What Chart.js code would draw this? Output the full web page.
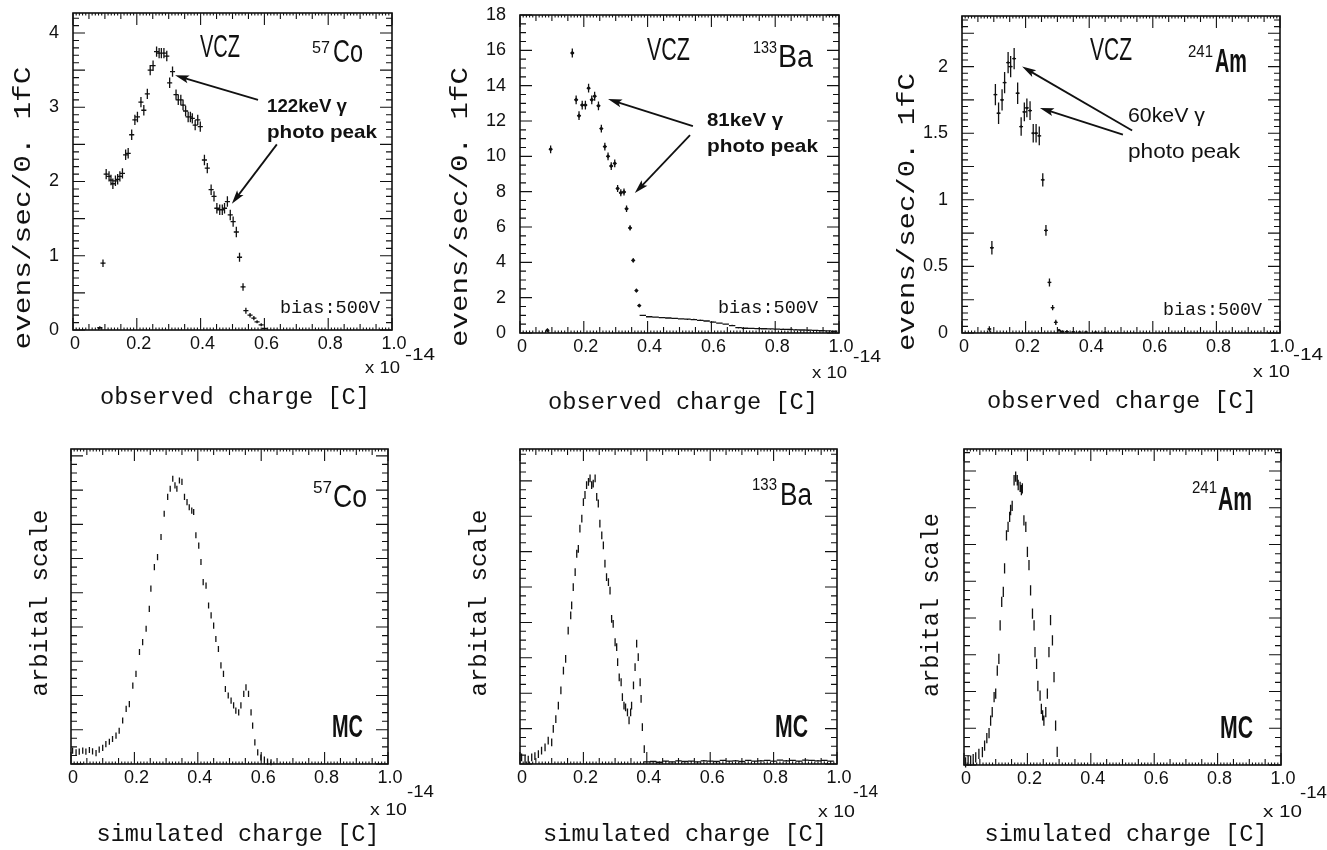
<!DOCTYPE html>
<html>
<head>
<meta charset="utf-8">
<script src="https://cdn.jsdelivr.net/npm/chart.js@4.4.1/dist/chart.umd.min.js"></script>
<style>
  body { margin: 0; background: #fff; width: 1327px; height: 850px; overflow: hidden; position: relative; }
  canvas { position: absolute; left: 0; top: 0; }
</style>
</head>
<body>
<canvas id="c1" width="1327" height="850"></canvas>
<canvas id="c2" width="1327" height="850"></canvas>
<canvas id="c3" width="1327" height="850"></canvas>
<canvas id="c4" width="1327" height="850"></canvas>
<canvas id="c5" width="1327" height="850"></canvas>
<canvas id="c6" width="1327" height="850"></canvas>
<script>
// x axis in units of 1e-14 C
const xTickVals = [0, 0.2, 0.4, 0.6, 0.8, 1.0];
const xTickLabels = ["0", "0.2", "0.4", "0.6", "0.8", "1.0"];

const coObsTicks = [0, 1, 2, 3, 4];
const baObsTicks = [0, 2, 4, 6, 8, 10, 12, 14, 16, 18];
const amObsTicks = [0, 0.5, 1, 1.5, 2];

// 57Co measured
const coObsX = [0.084, 0.094, 0.104, 0.113, 0.119, 0.125, 0.133, 0.140, 0.147, 0.155,
    0.165, 0.173, 0.184, 0.194, 0.202, 0.213, 0.222, 0.233, 0.242, 0.251,
    0.262, 0.270, 0.277, 0.285, 0.294, 0.303, 0.312, 0.323, 0.330, 0.338,
    0.345, 0.353, 0.361, 0.368, 0.374, 0.383, 0.391, 0.399, 0.412, 0.421,
    0.433, 0.442, 0.451, 0.460, 0.468, 0.475, 0.484, 0.493, 0.502, 0.512,
    0.522, 0.533, 0.542, 0.555, 0.567, 0.577, 0.590, 0.600];
const coObsY = [0.03, 0.90, 2.10, 2.07, 2.02, 1.97, 2.01, 2.03, 2.07, 2.11,
    2.36, 2.38, 2.63, 2.83, 2.87, 3.07, 2.96, 3.18, 3.50, 3.56,
    3.75, 3.73, 3.73, 3.73, 3.69, 3.33, 3.48, 3.17, 3.10, 3.10,
    3.03, 2.95, 2.87, 2.87, 2.85, 2.76, 2.83, 2.74, 2.29, 2.18,
    1.89, 1.80, 1.64, 1.62, 1.62, 1.64, 1.73, 1.55, 1.46, 1.32,
    0.98, 0.58, 0.26, 0.20, 0.16, 0.11, 0.07, 0.02];
const coObsErr = [0.02, 0.05,
    0.07, 0.07, 0.07, 0.07, 0.07, 0.07, 0.07, 0.07,
    0.07, 0.07, 0.07, 0.07, 0.07, 0.07, 0.07, 0.07,
    0.07, 0.07, 0.07, 0.07, 0.07, 0.07, 0.07, 0.07,
    0.07, 0.07, 0.07, 0.07, 0.07, 0.07, 0.07, 0.07,
    0.07, 0.07, 0.07, 0.07, 0.07, 0.07, 0.07, 0.07,
    0.07, 0.07, 0.07, 0.07, 0.07, 0.07, 0.07, 0.07,
    0.06, 0.05, 0.04, 0.03, 0.03, 0.02, 0.02, 0.01];

// 133Ba measured
const baObsX = [0.086, 0.096, 0.164, 0.176, 0.185, 0.195, 0.205, 0.215, 0.225, 0.234,
    0.246, 0.255, 0.266, 0.276, 0.286, 0.297, 0.306, 0.316, 0.326, 0.334,
    0.345, 0.355, 0.365, 0.374];
const baObsY = [0.15, 10.4, 15.85, 13.2, 12.3, 12.9, 12.9, 13.86, 13.2, 13.4,
    12.86, 11.57, 10.55, 10.0, 9.45, 9.6, 8.18, 7.94, 7.98, 7.03,
    5.95, 4.11, 2.4, 1.55];
const baObsErr = [0.1, 0.22, 0.25, 0.25, 0.25, 0.25, 0.25, 0.25, 0.25, 0.25,
    0.25, 0.22, 0.22, 0.22, 0.22, 0.22, 0.2, 0.2, 0.2, 0.18,
    0.15, 0.12, 0.1, 0.08];
const baTailX = [0.385, 0.405, 0.425, 0.445, 0.465, 0.485, 0.505, 0.525, 0.545, 0.565,
    0.585, 0.605, 0.625, 0.645, 0.665, 0.685, 0.705, 0.725, 0.745, 0.765,
    0.785, 0.805, 0.825, 0.845, 0.865, 0.885, 0.905, 0.925, 0.945, 0.965, 0.985];
const baTailY = [1.0, 0.92, 0.9, 0.87, 0.85, 0.83, 0.8, 0.78, 0.76, 0.72,
    0.68, 0.62, 0.56, 0.5, 0.42, 0.3, 0.27, 0.26, 0.25, 0.24,
    0.23, 0.22, 0.21, 0.2, 0.18, 0.17, 0.16, 0.15, 0.13, 0.12, 0.1];

// 241Am measured
const amObsX = [0.086, 0.094, 0.105, 0.115, 0.126, 0.134, 0.145, 0.153, 0.164, 0.175,
    0.186, 0.196, 0.204, 0.214, 0.224, 0.233, 0.243, 0.254, 0.264, 0.275,
    0.285, 0.295, 0.305, 0.315, 0.33, 0.35, 0.37, 0.39, 0.42, 0.45];
const amObsY = [0.03, 0.64, 1.79, 1.65, 1.75, 1.88, 2.03, 2.0, 2.06, 1.8,
    1.55, 1.66, 1.69, 1.67, 1.5, 1.5, 1.48, 1.15, 0.77, 0.38,
    0.19, 0.08, 0.02, 0.01, 0.01, 0.008, 0.006, 0.006, 0.005, 0.004];
const amObsErr = [0.02, 0.05, 0.08, 0.08, 0.08, 0.08, 0.08, 0.08, 0.08, 0.08,
    0.07, 0.07, 0.07, 0.07, 0.07, 0.07, 0.07, 0.05, 0.04, 0.03,
    0.02, 0.02, 0.01, 0.01, 0.01, 0.005, 0.005, 0.005, 0.005, 0.005];

// MC, arbitrary scale
const coMcX = [0.005, 0.016, 0.026, 0.037, 0.047, 0.058, 0.068, 0.079, 0.089, 0.1,
    0.11, 0.121, 0.131, 0.142, 0.152, 0.163, 0.174, 0.184, 0.195, 0.205,
    0.216, 0.226, 0.237, 0.247, 0.252, 0.263, 0.273, 0.284, 0.294, 0.305,
    0.313, 0.321, 0.328, 0.334, 0.342, 0.35, 0.358, 0.366, 0.373, 0.381,
    0.387, 0.394, 0.403, 0.41, 0.417, 0.426, 0.434, 0.442, 0.45, 0.457,
    0.465, 0.473, 0.481, 0.487, 0.496, 0.505, 0.513, 0.52, 0.529, 0.536,
    0.545, 0.552, 0.56, 0.568, 0.573, 0.58, 0.589, 0.599, 0.61, 0.62, 0.631];
const coMcY = [0.39, 0.34, 0.36, 0.39, 0.36, 0.41, 0.37, 0.32, 0.42, 0.47,
    0.58, 0.65, 0.73, 0.83, 0.97, 1.27, 1.61, 1.75, 2.29, 2.63,
    3.27, 3.56, 3.95, 4.53, 5.12, 5.75, 6.04, 6.63, 7.31, 7.8,
    8.04, 8.33, 8.14, 8.04, 8.28, 8.24, 7.8, 7.65, 7.5, 7.4,
    7.36, 6.68, 6.38, 5.9, 5.31, 5.21, 4.63, 4.34, 4.04, 3.65,
    3.36, 2.88, 2.63, 2.19, 2.0, 1.85, 1.71, 1.56, 1.51, 1.71,
    2.05, 2.24, 2.05, 1.51, 1.12, 0.63, 0.34, 0.19, 0.13, 0.07, 0.05];

const baMcX = [0.005, 0.016, 0.026, 0.037, 0.047, 0.058, 0.068, 0.079, 0.089, 0.1,
    0.105, 0.113, 0.121, 0.129, 0.137, 0.144, 0.152, 0.16, 0.163, 0.168,
    0.174, 0.179, 0.184, 0.189, 0.195, 0.2, 0.205, 0.21, 0.216, 0.221,
    0.226, 0.231, 0.237, 0.242, 0.247, 0.252, 0.258, 0.263, 0.268, 0.273,
    0.279, 0.284, 0.289, 0.294, 0.3, 0.305, 0.308, 0.313, 0.319, 0.323,
    0.328, 0.333, 0.339, 0.344, 0.349, 0.352, 0.358, 0.363, 0.368, 0.373,
    0.379, 0.382, 0.386, 0.392];
const baMcY = [0.19, 0.14, 0.12, 0.19, 0.22, 0.28, 0.38, 0.47, 0.66, 0.61,
    0.99, 1.27, 1.65, 2.08, 2.64, 2.97, 3.77, 4.2, 4.48, 5.0,
    5.42, 5.94, 6.08, 6.65, 6.93, 7.4, 7.6, 7.88, 7.97, 8.07,
    7.88, 7.92, 8.07, 7.55, 7.36, 6.79, 6.46, 6.18, 5.66, 5.28,
    5.14, 4.9, 4.1, 3.96, 3.44, 3.3, 2.88, 2.45, 2.31, 1.89,
    1.65, 1.6, 1.46, 1.23, 1.46, 1.65, 2.22, 2.74, 3.4, 3.02,
    2.31, 1.84, 1.04, 0.42];
const baMcTailX = [0.40, 0.42, 0.44, 0.46, 0.48, 0.50, 0.52, 0.54, 0.56, 0.58,
    0.60, 0.62, 0.64, 0.66, 0.68, 0.70, 0.72, 0.74, 0.76, 0.78,
    0.80, 0.82, 0.84, 0.86, 0.88, 0.90, 0.92, 0.94, 0.96, 0.98];
const baMcTailY = [0.06, 0.07, 0.05, 0.08, 0.06, 0.09, 0.07, 0.08, 0.06, 0.09,
    0.08, 0.07, 0.1, 0.08, 0.09, 0.07, 0.1, 0.08, 0.09, 0.1,
    0.08, 0.11, 0.09, 0.1, 0.08, 0.11, 0.1, 0.09, 0.1, 0.08];

const amMcX = [0.005, 0.013, 0.021, 0.029, 0.037, 0.047, 0.058, 0.065, 0.072, 0.079,
    0.084, 0.089, 0.095, 0.1, 0.105, 0.11, 0.114, 0.119, 0.124, 0.128,
    0.134, 0.139, 0.144, 0.147, 0.152, 0.158, 0.163, 0.168, 0.171, 0.177,
    0.181, 0.184, 0.189, 0.195, 0.2, 0.205, 0.21, 0.216, 0.221, 0.224,
    0.229, 0.233, 0.24, 0.244, 0.248, 0.252, 0.258, 0.263, 0.268, 0.273,
    0.279, 0.284, 0.289, 0.294];
const amMcY = [0.07, 0.12, 0.12, 0.16, 0.21, 0.3, 0.35, 0.53, 0.73, 0.87,
    1.21, 1.44, 1.85, 1.94, 2.57, 2.89, 3.8, 4.44, 4.71, 5.35,
    6.25, 6.48, 6.75, 6.94, 7.05, 7.75, 7.85, 7.75, 7.62, 7.57,
    7.48, 7.53, 6.66, 6.48, 5.8, 5.44, 4.75, 4.12, 3.8, 3.07,
    2.75, 2.15, 1.89, 1.53, 1.35, 1.21, 1.44, 1.94, 3.07, 3.94,
    3.39, 2.39, 1.07, 0.36];

const MONO = '"Liberation Mono", "DejaVu Sans Mono", monospace';
const SANS = '"Liberation Sans", Arial, sans-serif';
const INK = "#111";

function txt(s, x, y, size, w, opt) {
    return Object.assign({ s: s, x: x, y: y, font: size + "px " + SANS, w: w }, opt || {});
}
function mono(s, x, y, size, w, opt) {
    return Object.assign({ s: s, x: x, y: y, font: size + "px " + MONO, w: w }, opt || {});
}
function ytitle(s, cx, cy, w) {
    return mono(s, cx, cy, 24, w, { rot: -90, align: "center", base: "middle" });
}
function xtitle(s, cx, cy, w) {
    return mono(s, cx, cy, 24, w, { align: "center", base: "middle" });
}

const panels = [
    {
        id: "c1", area: { l: 73, t: 13, r: 392, b: 330 }, ymax: 4.27, yMajor: 0.5, yMinor: 0.1, yLabels: coObsTicks,
        sets: [{ x: coObsX, y: coObsY, err: coObsErr, hw: 0.008, radius: 0.8 }],
        arrows: [[0.580, 3.10, 0.320, 3.43], [0.639, 2.50, 0.498, 1.70]],
        texts: [
            ytitle("evens/sec/0. 1fC", 24, 208, 283),
            xtitle("observed charge [C]", 235, 398, 270),
            txt("x 10", 365, 368, 17, 35, { base: "middle" }),
            txt("-14", 405, 355, 17, 30, { base: "middle" }),
            txt("VCZ", 200, 57, 32, 40),
            txt("57", 312, 53, 17, 18),
            txt("Co", 333, 62, 31, 30),
            txt("122keV \u03b3", 267, 112, 19, 80, { bold: true }),
            txt("photo peak", 267, 138, 19, 110, { bold: true }),
            mono("bias:500V", 280, 313, 18, 100)
        ]
    },
    {
        id: "c2", area: { l: 520, t: 15, r: 839, b: 333 }, ymax: 18, yMajor: 2, yMinor: 0.5, yLabels: baObsTicks,
        sets: [
            { x: baObsX, y: baObsY, err: baObsErr, hw: 0.005, radius: 2.2 },
            { x: baTailX, y: baTailY, err: 0.04, hw: 0.01, radius: 0 }
        ],
        arrows: [[0.542, 11.71, 0.276, 13.24], [0.533, 11.2, 0.36, 7.92]],
        texts: [
            ytitle("evens/sec/0. 1fC", 461, 207, 280),
            xtitle("observed charge [C]", 683, 403, 270),
            txt("x 10", 812, 373, 17, 35, { base: "middle" }),
            txt("-14", 853, 357, 17, 28, { base: "middle" }),
            txt("VCZ", 647, 60, 32, 43),
            txt("133", 753, 53, 17, 24),
            txt("Ba", 778, 67, 32, 35),
            txt("81keV \u03b3", 707, 126, 19, 76, { bold: true }),
            txt("photo peak", 707, 152, 19, 111, { bold: true }),
            mono("bias:500V", 718, 313, 18, 100)
        ]
    },
    {
        id: "c3", area: { l: 962, t: 16, r: 1280, b: 333 }, ymax: 2.38, yMajor: 0.25, yMinor: 0.05, yLabels: amObsTicks,
        sets: [{ x: amObsX, y: amObsY, err: amObsErr, hw: 0.006, radius: 1.5 }],
        arrows: [[0.535, 1.52, 0.189, 2.0], [0.506, 1.49, 0.245, 1.69]],
        texts: [
            ytitle("evens/sec/0. 1fC", 908, 212, 278),
            xtitle("observed charge [C]", 1122, 402, 270),
            txt("x 10", 1253, 372, 17, 37, { base: "middle" }),
            txt("-14", 1293, 355, 17, 30, { base: "middle" }),
            txt("VCZ", 1090, 60, 32, 42),
            txt("241", 1188, 57, 17, 25),
            txt("Am", 1215, 72, 33, 32, { bold: true }),
            txt("60keV \u03b3", 1128, 122, 20, 77),
            txt("photo peak", 1128, 158, 20, 112),
            mono("bias:500V", 1163, 315, 18, 99)
        ]
    },
    {
        id: "c4", area: { l: 71, t: 449, r: 388, b: 764 }, ymax: 9.2, yMajor: 1, yMinor: 0.25, yLabels: [],
        sets: [{ x: coMcX, y: coMcY, err: 0.09, hw: 0.0015, radius: 0 }],
        arrows: [],
        texts: [
            ytitle("arbital scale", 41, 603, 187),
            xtitle("simulated charge [C]", 238, 835, 283),
            txt("x 10", 370, 810, 17, 37, { base: "middle" }),
            txt("-14", 407, 792, 17, 27, { base: "middle" }),
            txt("57", 313, 493, 17, 19),
            txt("Co", 333, 507, 31, 34),
            txt("MC", 332, 737, 31, 31, { bold: true })
        ]
    },
    {
        id: "c5", area: { l: 520, t: 449, r: 837, b: 764 }, ymax: 8.9, yMajor: 1, yMinor: 0.25, yLabels: [],
        sets: [
            { x: baMcX, y: baMcY, err: 0.11, hw: 0.0015, radius: 0 },
            { x: baMcTailX, y: baMcTailY, err: 0.02, hw: 0.01, radius: 0 }
        ],
        arrows: [],
        texts: [
            ytitle("arbital scale", 480, 603, 187),
            xtitle("simulated charge [C]", 685, 835, 284),
            txt("x 10", 818, 812, 17, 37, { base: "middle" }),
            txt("-14", 853, 792, 17, 25, { base: "middle" }),
            txt("133", 752, 490, 17, 25),
            txt("Ba", 780, 505, 31, 32),
            txt("MC", 775, 737, 31, 33, { bold: true })
        ]
    },
    {
        id: "c6", area: { l: 964, t: 449, r: 1281, b: 765 }, ymax: 8.6, yMajor: 1, yMinor: 0.25, yLabels: [],
        sets: [{ x: amMcX, y: amMcY, err: 0.14, hw: 0.0015, radius: 0 }],
        arrows: [],
        texts: [
            ytitle("arbital scale", 932, 605, 184),
            xtitle("simulated charge [C]", 1126, 835, 283),
            txt("x 10", 1263, 812, 17, 39, { base: "middle" }),
            txt("-14", 1300, 793, 17, 27, { base: "middle" }),
            txt("241", 1192, 493, 17, 25),
            txt("Am", 1218, 510, 33, 34, { bold: true }),
            txt("MC", 1220, 738, 31, 33, { bold: true })
        ]
    }
];

function drawText(ctx, t) {
    ctx.save();
    ctx.font = (t.bold ? "bold " : "") + t.font;
    ctx.fillStyle = INK;
    ctx.textAlign = t.align || "left";
    ctx.textBaseline = t.base || "alphabetic";
    ctx.translate(t.x, t.y);
    if (t.rot) ctx.rotate(t.rot * Math.PI / 180);
    if (t.w) {
        let m = ctx.measureText(t.s).width;
        ctx.scale(t.w / m, 1);
    }
    ctx.fillText(t.s, 0, 0);
    ctx.restore();
}

function tickRun(ctx, scale, max, step, len, onX, a) {
    let n = Math.floor(max / step + 1e-6);
    for (let i = 0; i <= n; i++) {
        let p = scale.getPixelForValue(i * step);
        if (onX) {
            ctx.moveTo(p, a.bottom); ctx.lineTo(p, a.bottom - len);
            ctx.moveTo(p, a.top); ctx.lineTo(p, a.top + len);
        } else {
            ctx.moveTo(a.left, p); ctx.lineTo(a.left + len, p);
            ctx.moveTo(a.right, p); ctx.lineTo(a.right - len, p);
        }
    }
}

function makeDeco(panel) {
    return {
        id: "deco",
        afterDatasetsDraw(chart) {
            const ctx = chart.ctx, xs = chart.scales.x, ys = chart.scales.y;
            ctx.save();
            ctx.strokeStyle = INK;
            ctx.lineWidth = 1.3;
            ctx.beginPath();
            panel.sets.forEach(s => {
                s.x.forEach((xv, i) => {
                    let e = Array.isArray(s.err) ? s.err[i] : s.err;
                    let px = xs.getPixelForValue(xv), py = ys.getPixelForValue(s.y[i]);
                    ctx.moveTo(px, ys.getPixelForValue(s.y[i] - e));
                    ctx.lineTo(px, ys.getPixelForValue(s.y[i] + e));
                    ctx.moveTo(xs.getPixelForValue(xv - s.hw), py);
                    ctx.lineTo(xs.getPixelForValue(xv + s.hw), py);
                });
            });
            ctx.stroke();
            ctx.restore();
        },
        afterDraw(chart) {
            const ctx = chart.ctx, a = chart.chartArea, xs = chart.scales.x, ys = chart.scales.y;
            ctx.save();
            ctx.strokeStyle = INK;
            ctx.lineWidth = 1.1;
            ctx.beginPath();
            tickRun(ctx, xs, 1, 0.2, 12, true, a);
            tickRun(ctx, xs, 1, 0.05, 6, true, a);
            tickRun(ctx, xs, 1, 0.01, 2.5, true, a);
            tickRun(ctx, ys, panel.ymax, panel.yMajor, 12, false, a);
            tickRun(ctx, ys, panel.ymax, panel.yMinor, 6, false, a);
            ctx.stroke();
            ctx.lineWidth = 1.6;
            ctx.strokeRect(a.left, a.top, a.right - a.left, a.bottom - a.top);

            // arrows
            ctx.lineWidth = 1.8;
            ctx.fillStyle = INK;
            panel.arrows.forEach(ar => {
                let x1 = xs.getPixelForValue(ar[0]), y1 = ys.getPixelForValue(ar[1]);
                let x2 = xs.getPixelForValue(ar[2]), y2 = ys.getPixelForValue(ar[3]);
                let ang = Math.atan2(y2 - y1, x2 - x1);
                ctx.beginPath();
                ctx.moveTo(x1, y1);
                ctx.lineTo(x2 - 8 * Math.cos(ang), y2 - 8 * Math.sin(ang));
                ctx.stroke();
                ctx.save();
                ctx.translate(x2, y2);
                ctx.rotate(ang);
                ctx.beginPath();
                ctx.moveTo(0, 0);
                ctx.lineTo(-14, -4);
                ctx.lineTo(-11, 0);
                ctx.lineTo(-14, 4);
                ctx.closePath();
                ctx.fill();
                ctx.restore();
            });

            // tick labels
            ctx.font = "18px " + SANS;
            ctx.fillStyle = INK;
            ctx.textAlign = "center";
            ctx.textBaseline = "middle";
            xTickVals.forEach((v, i) => {
                ctx.fillText(xTickLabels[i], xs.getPixelForValue(v) + 2, a.bottom + 14);
            });
            ctx.textAlign = "right";
            panel.yLabels.forEach(v => {
                ctx.fillText(String(v), a.left - 14, ys.getPixelForValue(v));
            });
            ctx.restore();

            panel.texts.forEach(t => drawText(ctx, t));
        }
    };
}

Chart.defaults.animation = false;

panels.forEach(panel => {
    const W = 1327, H = 850;
    new Chart(document.getElementById(panel.id), {
        type: "scatter",
        data: {
            datasets: panel.sets.map(s => ({
                data: s.x.map((xv, i) => ({ x: xv, y: s.y[i] })),
                pointRadius: s.radius,
                pointStyle: "rectRot",
                pointBorderWidth: 0,
                backgroundColor: INK,
                borderColor: INK,
                showLine: false
            }))
        },
        options: {
            responsive: false,
            animation: false,
            events: [],
            layout: { padding: { left: panel.area.l, top: panel.area.t, right: W - panel.area.r, bottom: H - panel.area.b } },
            scales: {
                x: { type: "linear", min: 0, max: 1, display: false },
                y: { type: "linear", min: 0, max: panel.ymax, display: false }
            },
            plugins: { legend: { display: false }, tooltip: { enabled: false } }
        },
        plugins: [makeDeco(panel)]
    });
});
</script>
</body>
</html>
